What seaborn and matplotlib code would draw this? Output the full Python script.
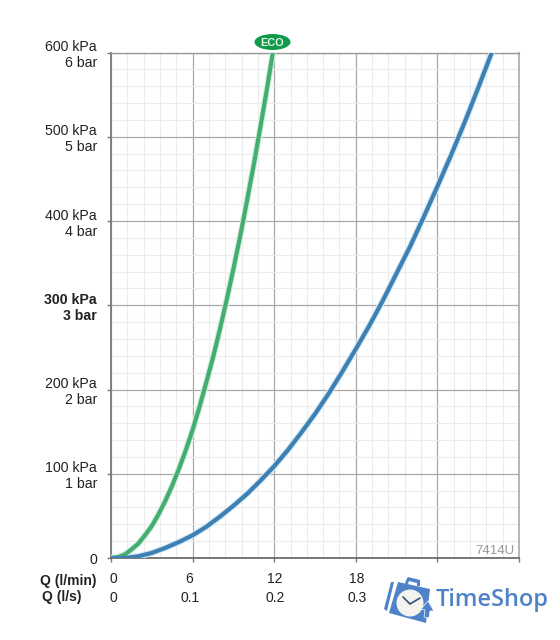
import matplotlib
matplotlib.use('Agg')
import matplotlib.pyplot as plt
from matplotlib.patches import Ellipse, Polygon
from matplotlib.transforms import ScaledTranslation
import seaborn as sns
import pandas as pd

# Flow (l/min) against pressure (kPa)
eco_flow = [0, 0.5, 1, 1.5, 2, 2.5, 3, 3.5, 4, 4.5, 5, 5.5, 6, 6.5, 7, 7.5, 8, 8.5, 9, 9.5,
            10, 10.5, 11, 11.5, 11.9]
eco_pressure = [0, 1, 4, 10, 17, 27, 38, 52, 68, 86, 106, 128, 152, 179, 208, 238, 271, 306, 343, 382,
                424, 467, 513, 560, 600]
std_flow = [0, 1, 2, 3, 4, 5, 6, 7, 8, 9, 10, 11, 12, 13, 14, 15, 16, 17, 18, 19, 20, 21, 22, 23,
            24, 25, 26, 27, 28]
std_pressure = [0, 0, 2, 6, 12, 19, 27, 37, 49, 62, 76, 92, 109, 128, 149, 171, 195, 221, 248, 276,
                306, 338, 370, 405, 441, 478, 517, 558, 600]

x_major = [0, 6, 12, 18, 24, 30]
x_minor = [1.2 * i for i in range(26)]
y_major = [0, 100, 200, 300, 400, 500, 600]
y_minor = [20 * i for i in range(31)]
y_labels = ['0', '100 kPa\n1 bar', '200 kPa\n2 bar', '300 kPa\n3 bar',
            '400 kPa\n4 bar', '500 kPa\n5 bar', '600 kPa\n6 bar']
x_labels = ['0\n0', '6\n0.1', '12\n0.2', '18\n0.3', '', '']

W, H = 560, 640


def px(x, y):
    # pixel position in the reference -> figure fraction
    return x / W, 1 - y / H


sns.set_theme(style='white')
plt.rcParams['font.family'] = ['Liberation Sans', 'DejaVu Sans']

fig = plt.figure(figsize=(W / 100, H / 100), dpi=100, facecolor='white')
ax = fig.add_axes([111 / W, 1 - 558 / H, 408 / W, 505.5 / H])

eco_df = pd.DataFrame({'flow': eco_flow, 'pressure': eco_pressure})
std_df = pd.DataFrame({'flow': std_flow, 'pressure': std_pressure})

# pale halo under each curve, then the curve itself
sns.lineplot(data=eco_df, x='flow', y='pressure', color='#d3eedd', lw=4.6, sort=False,
             estimator=None, ax=ax, zorder=3)
sns.lineplot(data=eco_df, x='flow', y='pressure', color='#43ad72', lw=3.0, sort=False,
             estimator=None, ax=ax, zorder=4)
sns.lineplot(data=std_df, x='flow', y='pressure', color='#cfe8f8', lw=4.6, sort=False,
             estimator=None, ax=ax, zorder=3)
sns.lineplot(data=std_df, x='flow', y='pressure', color='#3e80b2', lw=3.0, sort=False,
             estimator=None, ax=ax, zorder=4)

ax.set_xlim(0, 30)
ax.set_ylim(0, 600)
ax.set_xlabel('')
ax.set_ylabel('')

ax.set_xticks(x_major)
ax.set_xticks(x_minor, minor=True)
ax.set_yticks(y_major)
ax.set_yticks(y_minor, minor=True)
ax.set_xticklabels(x_labels, fontsize=10, color='#222222', linespacing=1.5)
ax.set_yticklabels(y_labels, fontsize=10.2, color='#222222', linespacing=1.2,
                   ha='right', multialignment='right')
ax.get_yticklabels()[3].set_fontweight('bold')

ax.tick_params(axis='both', which='major', length=3, width=1, color='#777777',
               left=True, bottom=True)
ax.tick_params(axis='x', which='major', pad=7)
ax.tick_params(axis='y', which='major', pad=7)
ax.tick_params(axis='both', which='minor', length=0)

# the labels do not sit exactly under their ticks in the original
for label, dx in zip(ax.get_xticklabels(), [2, -3, 1, 1, 0, 0]):
    label.set_transform(label.get_transform() + ScaledTranslation(dx / 100, 0, fig.dpi_scale_trans))

ax.grid(True, which='minor', color='#ececec', lw=0.8)
ax.grid(True, which='major', color='#a8a8a8', lw=0.9)
ax.set_axisbelow(True)

for side, col, lw in [('left', '#7a7a7a', 1.3), ('right', '#aaaaaa', 1.2),
                      ('top', '#999999', 1.0), ('bottom', '#555555', 1.1)]:
    ax.spines[side].set_visible(True)
    ax.spines[side].set_color(col)
    ax.spines[side].set_linewidth(lw)

# row captions for the x axis
fig.text(*px(97, 581), 'Q (l/min)', ha='right', va='center', fontsize=10, fontweight='bold', color='#222222')
fig.text(*px(81, 597), 'Q (l/s)', ha='right', va='center', fontsize=10, fontweight='bold', color='#222222')

# model number
fig.text(*px(514, 551), '7414U', ha='right', va='center', fontsize=9.5, color='#9a9a9a')

# ECO badge
fig.add_artist(Ellipse(px(272.5, 42), 36 / W, 16 / H, transform=fig.transFigure,
                       facecolor='#109a4b', edgecolor='none', zorder=5))
fig.text(*px(272.5, 42.5), 'ECO', ha='center', va='center', fontsize=7.8, fontweight='bold',
         color='#e8f5ec', zorder=6)

# TimeShop watermark
logo = '#4f82c8'
fig.add_artist(Polygon([px(x, y) for x, y in [(406, 580), (408, 577), (420, 580), (420, 586), (417, 586),
                                              (417, 583), (409, 581), (408, 584), (405, 584)]],
                       transform=fig.transFigure, facecolor=logo, edgecolor='none'))
fig.add_artist(Polygon([px(x, y) for x, y in [(398, 582), (430, 589), (426, 623), (389, 613)]],
                       transform=fig.transFigure, facecolor=logo, edgecolor='none'))
fig.add_artist(Polygon([px(x, y) for x, y in [(391, 582), (394, 582), (387, 611), (384, 609)]],
                       transform=fig.transFigure, facecolor=logo, edgecolor='none'))
fig.add_artist(Ellipse(px(410, 603), 27 / W, 27 / H, transform=fig.transFigure,
                       facecolor='#f4f4ee', edgecolor='none'))
fig.add_artist(plt.Line2D([px(403, 597)[0], px(410, 604)[0], px(420, 598)[0]],
                          [px(403, 597)[1], px(410, 604)[1], px(420, 598)[1]],
                          transform=fig.transFigure, color='#33507a', lw=1.2))
fig.add_artist(Polygon([px(x, y) for x, y in [(428, 601), (434, 611), (430, 611), (429, 618), (424, 617),
                                              (425, 610), (421, 609)]],
                       transform=fig.transFigure, facecolor=logo, edgecolor='white', lw=0.5))
fig.text(*px(436, 600), 'TimeShop', ha='left', va='center', fontsize=17, color=logo,
         family=['Open Sans', 'DejaVu Sans'], fontweight='semibold')

fig.savefig('out.png', dpi=100, facecolor='white')
